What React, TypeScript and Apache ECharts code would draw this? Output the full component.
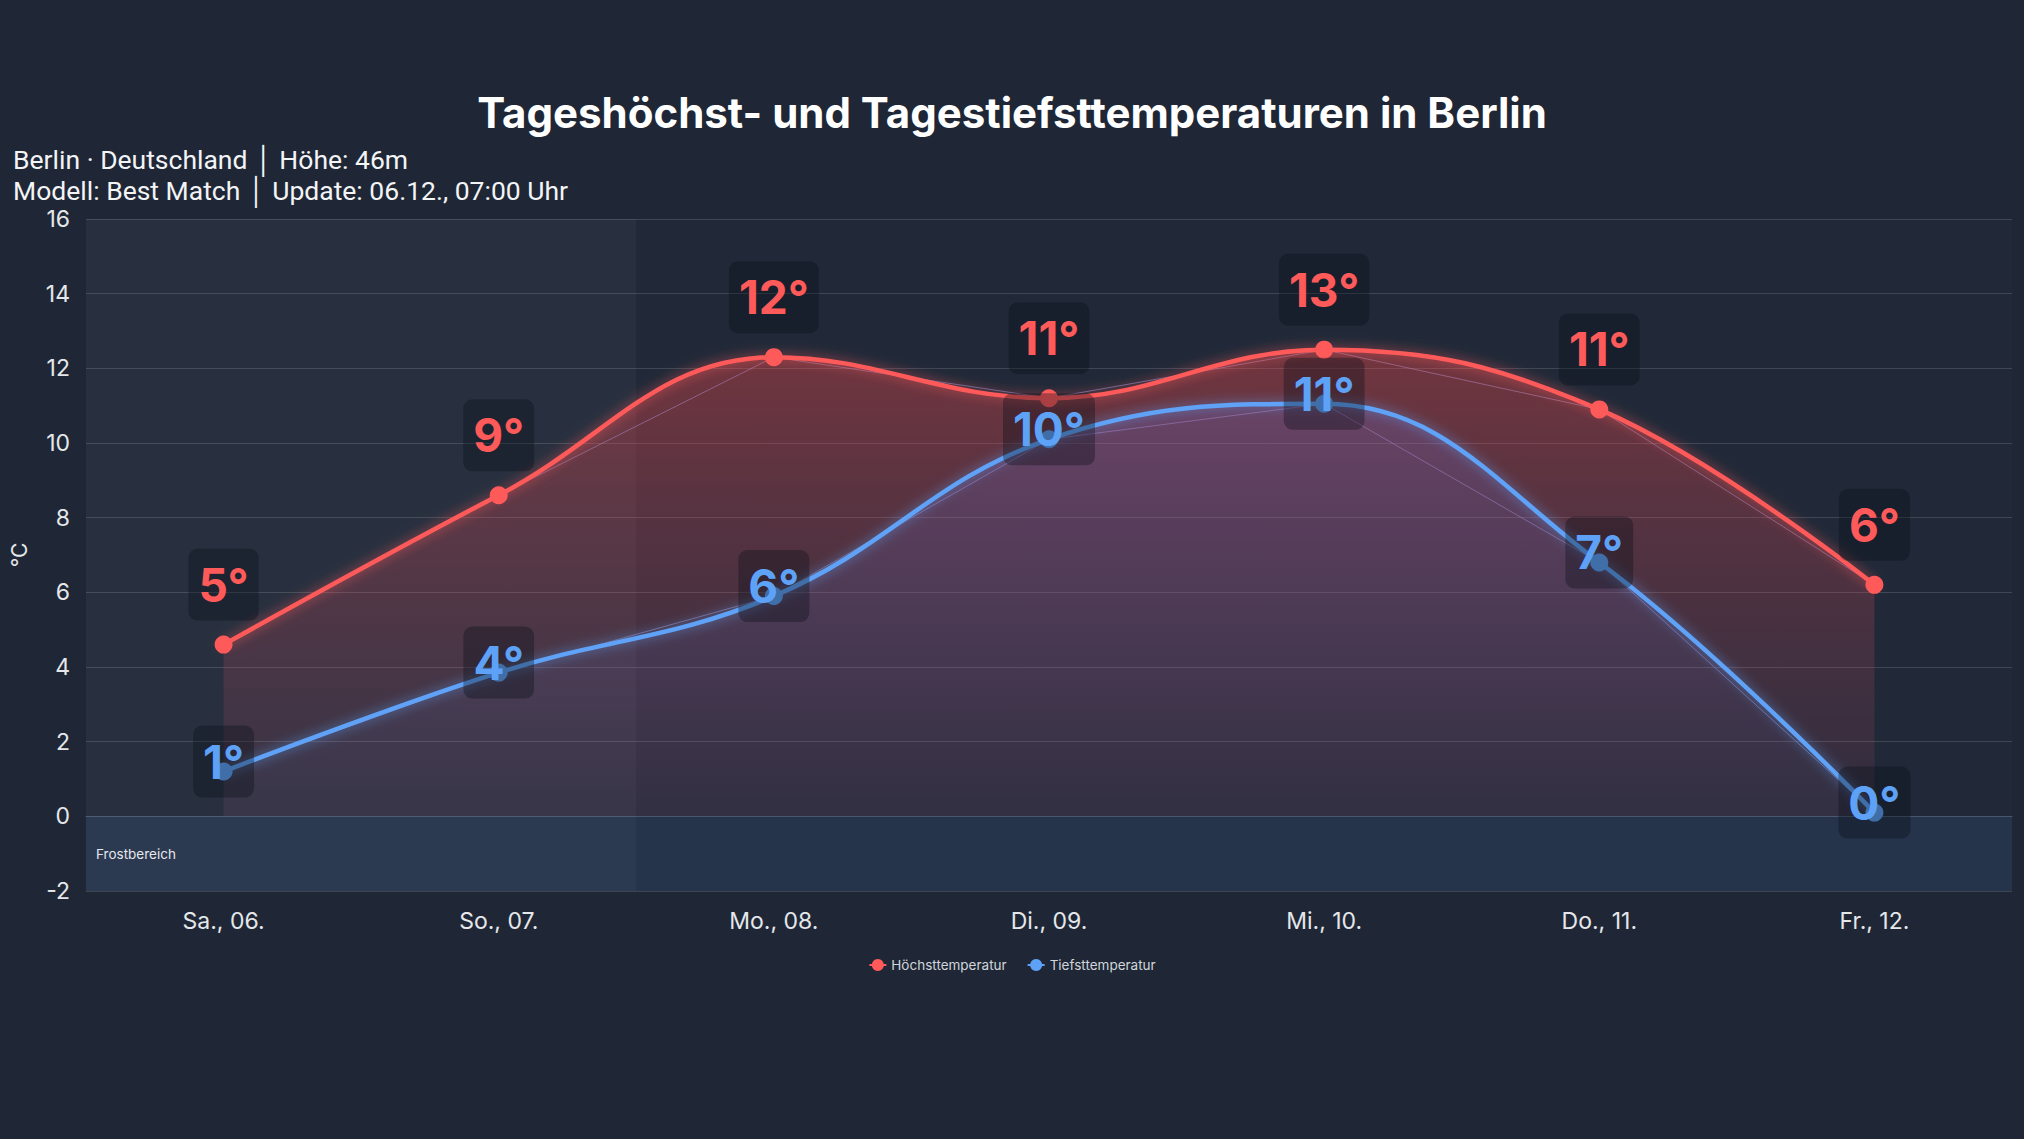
import React, { useEffect, useRef } from "react";
import * as echarts from "echarts";

const days = ["Sa., 06.", "So., 07.", "Mo., 08.", "Di., 09.", "Mi., 10.", "Do., 11.", "Fr., 12."];
const highs = [4.6, 8.6, 12.3, 11.2, 12.5, 10.9, 6.2];
const lows = [1.2, 3.85, 5.9, 10.1, 11.05, 6.8, 0.1];
const yTicks = { min: -2, max: 16, interval: 2 };
const pastBand = [-0.5, 1.5];
const frostBand = [-2, 0];

const titleText = "Tageshöchst- und Tagestiefsttemperaturen in Berlin";
const subLines = ["Berlin · Deutschland │ Höhe: 46m", "Modell: Best Match │ Update: 06.12., 07:00 Uhr"];

const RED = "#ff5a5a";
const BLUE = "#5ea2f7";

export default function App() {
  const ref = useRef<HTMLDivElement>(null);
  useEffect(() => {
    if (!ref.current) return;
    const chart = echarts.init(ref.current, null, { renderer: "svg" });
    const labelBox = {
      backgroundColor: "rgba(10,14,24,0.35)",
      borderRadius: 9,
      padding: [13, 10, 13, 10],
      fontFamily: "Inter",
      fontWeight: "bold",
      fontSize: 46,
      formatter: (p: any) => Math.round(p.value) + "°",
    };
    chart.setOption({
      animation: false,
      backgroundColor: "#1f2736",
      textStyle: { fontFamily: "Inter" },
      title: [
        {
          text: titleText,
          left: "center",
          top: 86,
          textStyle: { color: "#ffffff", fontSize: 42, fontWeight: "bold", fontFamily: "Inter" },
        },
        {
          text: subLines.join("\n"),
          left: 8,
          top: 139,
          textStyle: { color: "#f3f4f6", fontSize: 26.5, fontWeight: "normal", fontFamily: "Roboto", lineHeight: 31 },
        },
      ],
      legend: {
        data: ["Höchsttemperatur", "Tiefsttemperatur"],
        top: 953,
        left: "center",
        itemWidth: 17,
        itemHeight: 15,
        itemGap: 20,
        textStyle: { color: "#d1d5db", fontSize: 13.5, fontFamily: "Inter" },
      },
      grid: { left: 86, right: 12, top: 219, bottom: 248, backgroundColor: "rgba(255,255,255,0.012)", show: true, borderWidth: 0 },
      xAxis: [
        {
          type: "category",
          data: days,
          boundaryGap: true,
          axisLine: { show: true, lineStyle: { color: "#4a5262" } },
          axisTick: { show: false },
          axisLabel: { color: "#e5e7eb", fontSize: 23, margin: 18, fontFamily: "Inter" },
          splitLine: { show: false },
        },
        { type: "value", min: -0.5, max: 6.5, show: false },
      ],
      yAxis: {
        type: "value",
        min: yTicks.min,
        max: yTicks.max,
        interval: yTicks.interval,
        name: "°C",
        nameLocation: "middle",
        nameGap: 56,
        nameTextStyle: { color: "#e5e7eb", fontSize: 21, fontFamily: "Inter" },
        axisLine: { show: false },
        axisTick: { show: false },
        axisLabel: { color: "#e5e7eb", fontSize: 23, margin: 16, fontFamily: "Inter" },
        splitLine: { lineStyle: { color: "rgba(255,255,255,0.14)", width: 1 } },
      },
      series: [
        {
          name: "bg",
          type: "line",
          xAxisIndex: 1,
          data: [[pastBand[0], yTicks.min]],
          symbol: "none",
          lineStyle: { opacity: 0 },
          silent: true,
          z: 0,
          markArea: {
            silent: true,
            data: [
              [
                { xAxis: pastBand[0], yAxis: yTicks.min, itemStyle: { color: "rgba(255,255,255,0.035)" } },
                { xAxis: pastBand[1], yAxis: yTicks.max },
              ],
              [
                {
                  yAxis: frostBand[0],
                  itemStyle: { color: "rgba(70,125,210,0.13)" },
                  label: { show: true, position: "insideLeft", color: "#e5e7eb", fontSize: 13.5, distance: 10, formatter: "Frostbereich" },
                },
                { yAxis: frostBand[1] },
              ],
            ],
          },
        },
        {
          name: "Höchsttemperatur",
          type: "line",
          data: highs,
          smooth: 0.4,
          symbol: "circle",
          symbolSize: 18,
          itemStyle: { color: RED },
          lineStyle: { color: RED, width: 4.5, shadowBlur: 12, shadowColor: "rgba(255,90,90,0.7)" },
          areaStyle: {
            color: new echarts.graphic.LinearGradient(0, 0, 0, 1, [
              { offset: 0, color: "rgba(255,75,75,0.52)" },
              { offset: 1, color: "rgba(190,80,110,0.14)" },
            ]),
          },
          label: { show: true, position: "top", distance: 15, color: RED, ...labelBox },
          z: 3,
        },
        {
          name: "Tiefsttemperatur",
          type: "line",
          data: lows,
          smooth: 0.4,
          symbol: "circle",
          symbolSize: 18,
          itemStyle: { color: BLUE },
          lineStyle: { color: BLUE, width: 4.5, shadowBlur: 12, shadowColor: "rgba(94,162,247,0.7)" },
          areaStyle: {
            color: new echarts.graphic.LinearGradient(0, 0, 0, 1, [
              { offset: 0, color: "rgba(105,115,230,0.32)" },
              { offset: 1, color: "rgba(90,120,200,0.05)" },
            ]),
          },
          label: { show: true, position: "inside", offset: [0, -10], color: BLUE, ...labelBox },
          z: 4,
        },
        {
          name: "highEdge",
          type: "line",
          data: highs,
          symbol: "none",
          silent: true,
          lineStyle: { color: "rgba(140,160,235,0.55)", width: 1 },
          z: 2,
        },
        {
          name: "lowEdge",
          type: "line",
          data: lows,
          symbol: "none",
          silent: true,
          lineStyle: { color: "rgba(140,160,235,0.55)", width: 1 },
          z: 2,
        },
      ],
    });
    return () => chart.dispose();
  }, []);
  return <div ref={ref} style={{ position: "fixed", left: 0, top: 0, width: 2024, height: 1139 }} />;
}
